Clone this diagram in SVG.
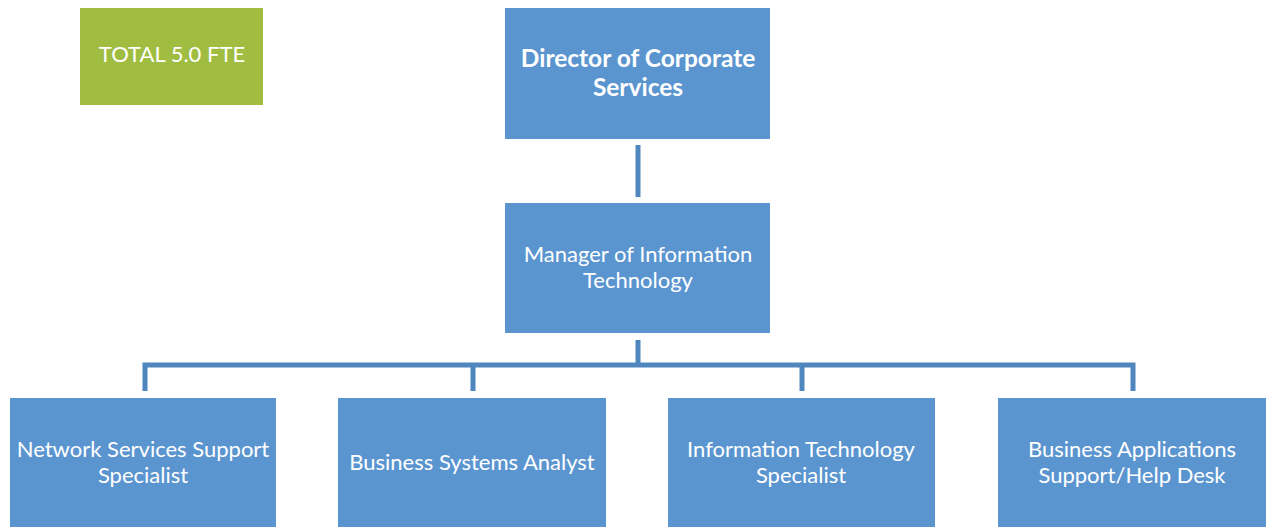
<svg xmlns="http://www.w3.org/2000/svg" width="1269" height="527" viewBox="0 0 1269 527">
<style>
.box{fill:#5b95cf;}
.tot{fill:#a0bd42;}
.t{font-family:Lato,"Open Sans","Liberation Sans",sans-serif;fill:#ffffff;text-anchor:middle;font-size:22px;}
.b{font-weight:bold;font-size:24.5px;}
.c{stroke:#4f86bd;stroke-width:5;fill:none;}
</style>
<rect width="1269" height="527" fill="#ffffff"/>
<g id="total">
<rect class="tot" x="80" y="8" width="183" height="97"/>
<text class="t" x="172" y="62" font-size="17">TOTAL 5.0 FTE</text>
</g>
<g id="connectors">
<line class="c" x1="638" y1="145" x2="638" y2="197"/>
<line class="c" x1="638" y1="340" x2="638" y2="365"/>
<polyline class="c" points="145,391 145,365 1133,365 1133,391"/>
<line class="c" x1="473" y1="365" x2="473" y2="391"/>
<line class="c" x1="802" y1="365" x2="802" y2="391"/>
</g>
<g id="director">
<rect class="box" x="505" y="8" width="265" height="131"/>
<text class="t b" x="638" y="67">Director of Corporate</text>
<text class="t b" x="638" y="96">Services</text>
</g>
<g id="manager">
<rect class="box" x="505" y="203" width="265" height="130"/>
<text class="t" x="638" y="262">Manager of Information</text>
<text class="t" x="638" y="288">Technology</text>
</g>
<g id="network">
<rect class="box" x="10" y="398" width="266" height="129"/>
<text class="t" x="143" y="457">Network Services Support</text>
<text class="t" x="143" y="483">Specialist</text>
</g>
<g id="bsa">
<rect class="box" x="338" y="398" width="268" height="129"/>
<text class="t" x="472" y="470">Business Systems Analyst</text>
</g>
<g id="its">
<rect class="box" x="668" y="398" width="267" height="129"/>
<text class="t" x="801" y="457">Information Technology</text>
<text class="t" x="801" y="483">Specialist</text>
</g>
<g id="basd">
<rect class="box" x="998" y="398" width="268" height="129"/>
<text class="t" x="1132" y="457">Business Applications</text>
<text class="t" x="1132" y="483">Support/Help Desk</text>
</g>
</svg>
